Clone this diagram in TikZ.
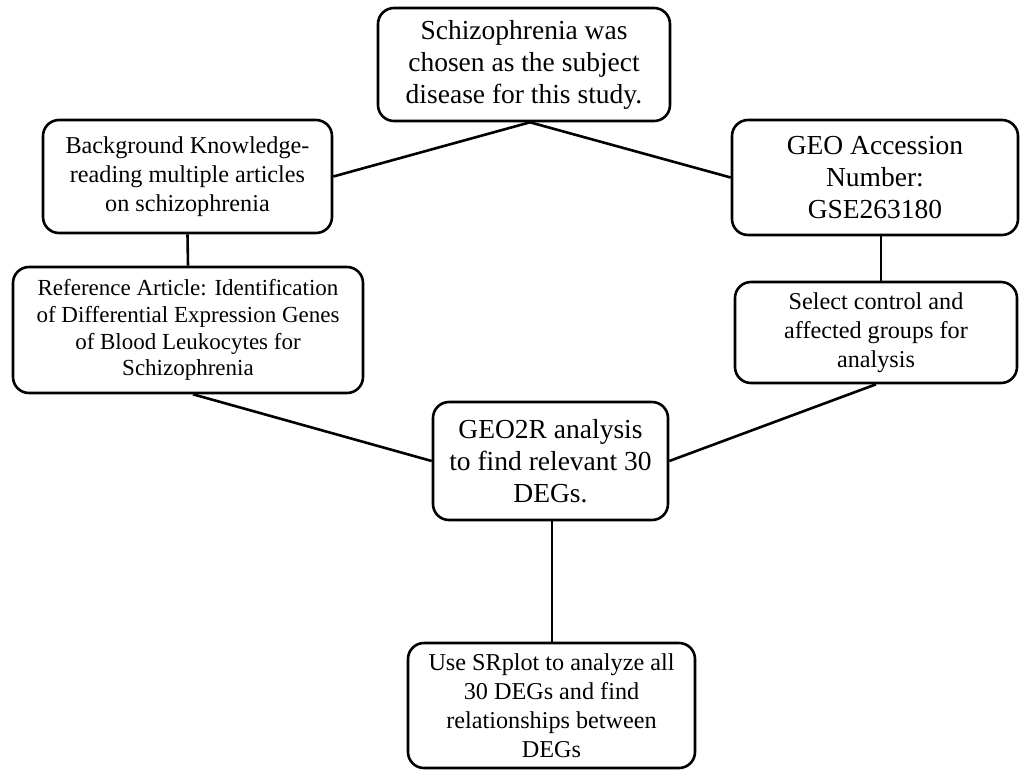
\documentclass[tikz,border=0pt]{standalone}
\usepackage{fontspec}
\setmainfont{Liberation Serif}
\begin{document}
\begin{tikzpicture}[x=1pt,y=-1pt,
  box/.style={draw=black,line width=2.6pt,rounded corners=16pt,align=center,inner sep=0pt,fill=white},
  link/.style={draw=black,line width=2.6pt},
  big/.style={font=\fontsize{27.5}{32}\selectfont},
  mid/.style={font=\fontsize{24.2}{29}\selectfont},
  small/.style={font=\fontsize{23}{26.7}\selectfont}]
\useasboundingbox[fill=white] (0,0) rectangle (1021,772);
\node[box,big,minimum width=292pt,minimum height=113pt] (top) at (524,64.5)
  {Schizophrenia was\\chosen as the subject\\disease for this study.};
\node[box,mid,minimum width=289pt,minimum height=113pt] (bg) at (187.5,176.5)
  {Background Knowledge-\\reading multiple articles\\on schizophrenia};
\node[box,big,minimum width=286pt,minimum height=115pt] (geo) at (875,177.5)
  {GEO Accession\\Number:\\GSE263180};
\node[box,small,minimum width=350pt,minimum height=126pt] (ref) at (188,330)
  {Reference Article: Identification\\of Differential Expression Genes\\of Blood Leukocytes for\\Schizophrenia};
\node[box,mid,minimum width=282pt,minimum height=101pt] (sel) at (876,332.5)
  {Select control and\\affected groups for\\analysis};
\node[box,big,minimum width=235pt,minimum height=118pt] (geo2r) at (550.5,461)
  {GEO2R analysis\\to find relevant 30\\DEGs.};
\node[box,mid,minimum width=287pt,minimum height=125pt] (sr) at (551.5,705.5)
  {Use SRplot to analyze all\\30 DEGs and find\\relationships between\\DEGs};
\draw[link] ([xshift=6pt]top.south) -- (bg.east);
\draw[link] ([xshift=6pt]top.south) -- (geo.west);
\draw[link] (bg.south) -- (ref.north);
\draw[link] ([xshift=6pt]geo.south) -- ([xshift=5pt]sel.north);
\draw[link] ([xshift=5pt]ref.south) -- (geo2r.west);
\draw[link] (sel.south) -- (geo2r.east);
\draw[link] ([xshift=1.5pt]geo2r.south) -- ([xshift=0.5pt]sr.north);
\end{tikzpicture}
\end{document}
